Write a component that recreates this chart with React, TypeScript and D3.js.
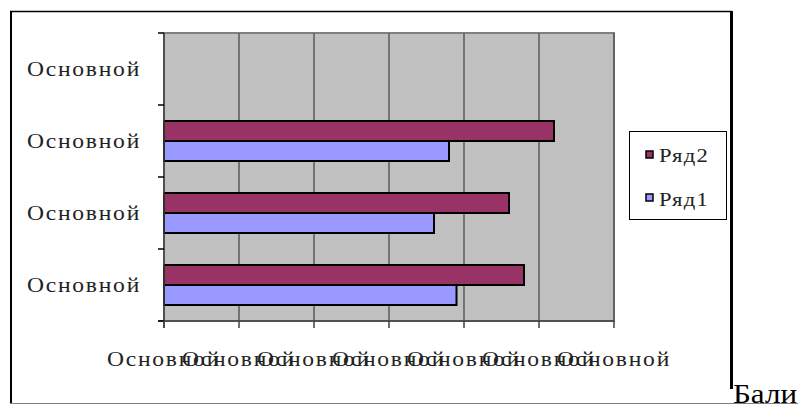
import React from "react";
import * as d3 from "d3";

const categories = ["Основной", "Основной", "Основной", "Основной"]; // bottom to top
const seriesNames = ["Ряд2", "Ряд1"];
const ryad1 = [3.9, 3.6, 3.8, 0];
const ryad2 = [4.8, 4.6, 5.2, 0];
const xTicks = [0, 1, 2, 3, 4, 5, 6];
const xTickLabel = "Основной";
const colors: Record<string, string> = { "Ряд2": "#993366", "Ряд1": "#9999FF" };

export default function App() {
  const W = 798, H = 405;
  const plot = { l: 164, r: 614, t: 33, b: 321 };
  const x = d3.scaleLinear().domain([0, 6]).range([plot.l, plot.r]);
  const idx = categories.map((_, i) => i);
  const y = d3.scaleBand<number>().domain([...idx].reverse()).range([plot.t, plot.b]).padding(0);
  const yInner = d3.scaleBand<string>().domain(seriesNames).range([0, y.bandwidth()]).paddingInner(0).paddingOuter(0.8);
  const values: Record<string, number[]> = { "Ряд1": ryad1, "Ряд2": ryad2 };
  const lbl = "Liberation Serif, serif";
  const yTickPos = [...idx.map((i) => y(i)!), plot.b];

  return (
    <svg width={W} height={H} style={{ position: "absolute", left: 0, top: 0, background: "#fff" }}>
      {/* outer frame */}
      <line x1={10} y1={11.5} x2={732} y2={11.5} stroke="#000" strokeWidth={1.5} />
      <line x1={11} y1={11} x2={11} y2={404} stroke="#000" strokeWidth={2} />
      <line x1={731.5} y1={11} x2={731.5} y2={389} stroke="#000" strokeWidth={3} />
      <line x1={10} y1={403.5} x2={798} y2={403.5} stroke="#808080" strokeWidth={1} />
      <text x={733} y={403} fontFamily="Liberation Serif, serif" fontSize={27} textLength={64} lengthAdjust="spacingAndGlyphs" fill="#000">Бали</text>

      {/* plot area */}
      <rect x={plot.l} y={plot.t} width={plot.r - plot.l} height={plot.b - plot.t} fill="#C0C0C0" stroke="#808080" strokeWidth={2} />
      {xTicks.slice(1).map((t) => (
        <line key={"g" + t} x1={x(t)} x2={x(t)} y1={plot.t} y2={plot.b} stroke="#5a5a5a" strokeWidth={1.5} />
      ))}

      {/* bars */}
      {idx.map((i) =>
        seriesNames.map((s) => {
          const v = values[s][i];
          if (!v) return null;
          const y0 = y(i)! + yInner(s)!;
          return (
            <rect key={s + i} x={x(0)} y={y0} width={x(v) - x(0)} height={yInner.bandwidth()} fill={colors[s]} stroke="#000" strokeWidth={2} />
          );
        })
      )}

      {/* axes */}
      <line x1={plot.l} x2={plot.l} y1={plot.t} y2={plot.b + 7} stroke="#404040" strokeWidth={1.5} />
      <line x1={plot.l - 6} x2={plot.r} y1={plot.b} y2={plot.b} stroke="#404040" strokeWidth={1.5} />
      {yTickPos.map((p, k) => (
        <line key={"yt" + k} x1={plot.l - 6} x2={plot.l} y1={p} y2={p} stroke="#000" strokeWidth={1.5} />
      ))}
      {xTicks.map((t) => (
        <line key={"xt" + t} x1={x(t)} x2={x(t)} y1={plot.b} y2={plot.b + 7} stroke="#404040" strokeWidth={1.5} />
      ))}
      {idx.map((i) => (
        <text key={"yl" + i} x={141} y={y(i)! + y.bandwidth() / 2 + 7} textAnchor="end" fontFamily={lbl} fontSize={20} letterSpacing={1.5} textLength={114} lengthAdjust="spacingAndGlyphs" fill="#222">
          {categories[i]}
        </text>
      ))}
      {xTicks.map((t) => (
        <text key={"xl" + t} x={x(t) - 57} y={366} fontFamily={lbl} fontSize={20} letterSpacing={1.5} textLength={114} lengthAdjust="spacingAndGlyphs" fill="#222">
          {xTickLabel}
        </text>
      ))}

      {/* legend */}
      <rect x={629.5} y={131.5} width={97} height={88} fill="#fff" stroke="#000" strokeWidth={1} />
      {seriesNames.map((s, k) => (
        <g key={"lg" + s}>
          <rect x={646} y={151 + k * 43} width={7} height={7} fill={colors[s]} stroke="#000" strokeWidth={1.5} />
          <text x={659} y={162 + k * 44} fontFamily={lbl} fontSize={18} letterSpacing={1} textLength={50} lengthAdjust="spacingAndGlyphs" fill="#222">{s}</text>
        </g>
      ))}
    </svg>
  );
}
